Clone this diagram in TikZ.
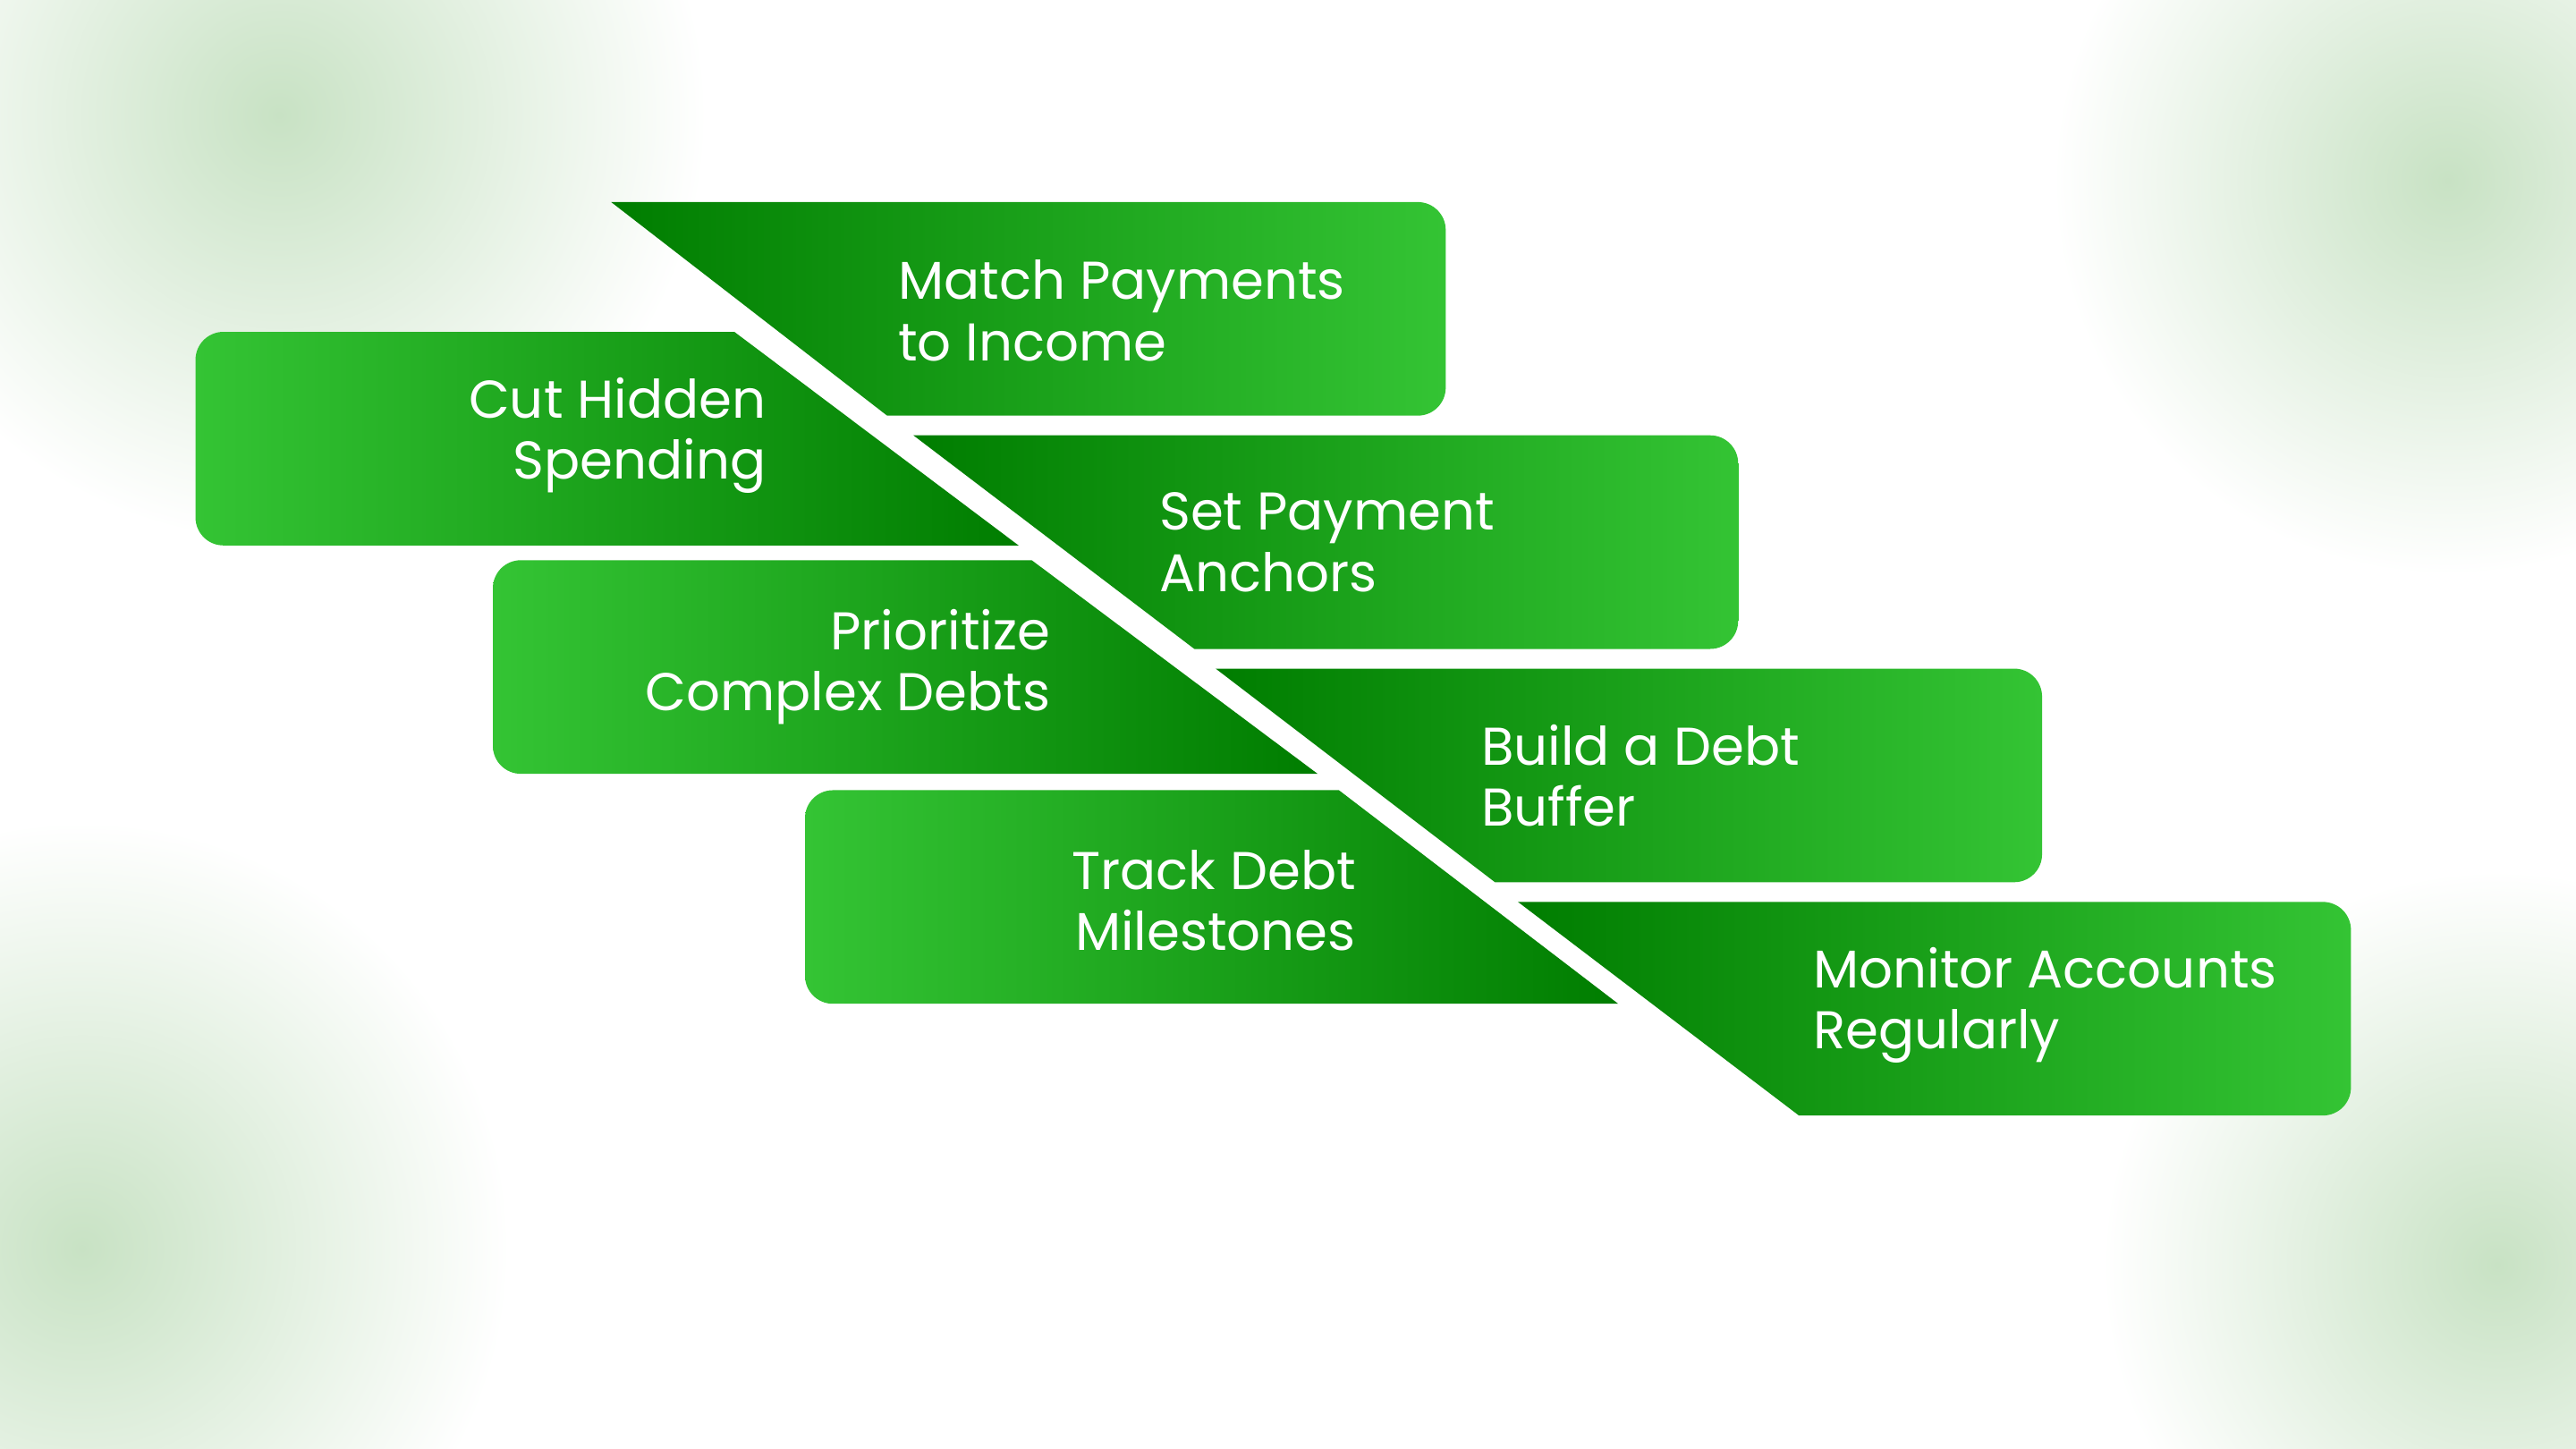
\documentclass[tikz,border=0pt]{standalone}
\usepackage{fontspec}
\setmainfont{Poppins}
\definecolor{gdark}{RGB}{0,125,0}
\definecolor{glight}{RGB}{52,196,52}
\definecolor{haze}{RGB}{200,226,196}
\newcommand{\rboxx}[4]{% ytop, xtop, xbot, xright
  \shade[left color=gdark,right color=glight] (#2,#1) [rounded corners=0.17cm]-- (#4,#1) -- (#4,#1+130) [sharp corners]-- (#3,#1+130) -- cycle;}
\newcommand{\lboxx}[4]{% ytop, xleft, xtop, xbot
  \shade[left color=glight,right color=gdark] (#3,#1) -- (#4,#1+130) [rounded corners=0.17cm]-- (#2,#1+130) -- (#2,#1) [sharp corners]-- cycle;}
\tikzset{lbl/.style={text=white,font=\fontsize{9.2}{10.6}\selectfont,inner sep=0pt}}
\begin{document}
\begin{tikzpicture}[x=0.01cm,y=-0.01cm]
\useasboundingbox (0,0) rectangle (1568,882);
\fill[white] (0,0) rectangle (1568,882);
\begin{scope}
\clip (0,0) rectangle (1568,882);
\shade[inner color=haze,outer color=white] (170,70) circle (0.26cm*10);
\shade[inner color=haze,outer color=white] (1490,110) circle (0.24cm*10);
\shade[inner color=haze,outer color=white] (50,760) circle (0.26cm*10);
\shade[inner color=haze,outer color=white] (1520,770) circle (0.24cm*10);
\end{scope}
\rboxx{123}{372}{540}{880}
\lboxx{202}{119}{447}{620}
\rboxx{265}{556}{727}{1058}
\lboxx{341}{300}{628}{802}
\rboxx{407}{740}{910}{1243}
\lboxx{481}{490}{815}{985}
\rboxx{549}{924}{1095}{1431}
\node[lbl,anchor=west,align=left] (t1) at (546,189) {Match Payments\\to Income};
\node[lbl,anchor=east,align=right] (t2) at (467,265) {Cut Hidden\\Spending};
\node[lbl,anchor=west,align=left] (t3) at (705,330) {Set Payment\\Anchors};
\node[lbl,anchor=east,align=right] (t4) at (640,406) {Prioritize\\Complex Debts};
\node[lbl,anchor=west,align=left] (t5) at (901,472) {Build a Debt\\Buffer};
\node[lbl,anchor=east,align=right] (t6) at (826,548) {Track Debt\\Milestones};
\node[lbl,anchor=west,align=left] (t7) at (1103,612) {Monitor Accounts\\Regularly};
\end{tikzpicture}
\end{document}
